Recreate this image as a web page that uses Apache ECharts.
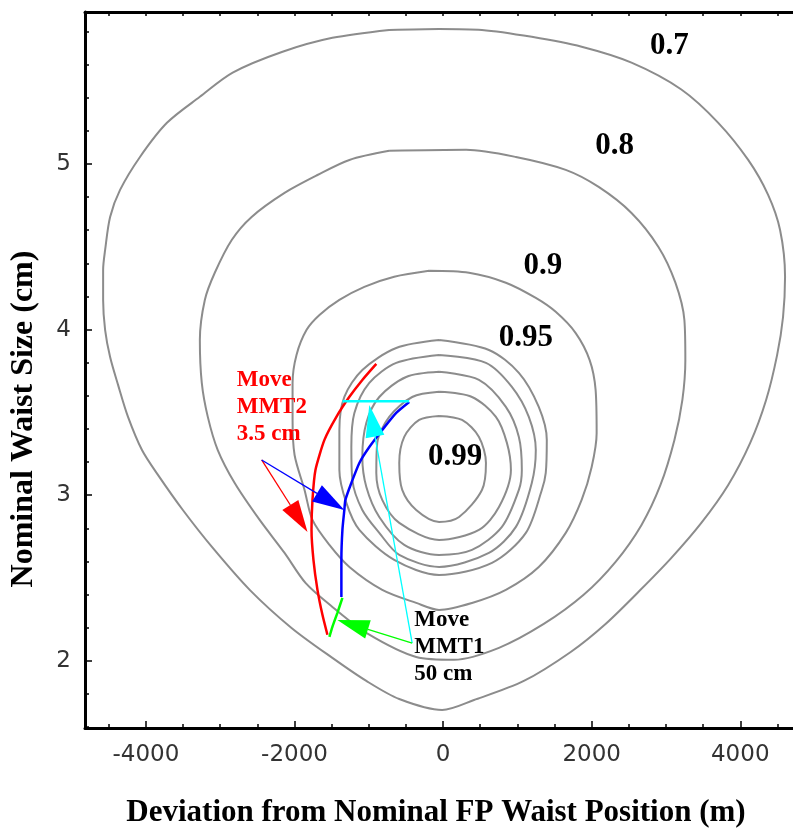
<!DOCTYPE html>
<html><head><meta charset="utf-8">
<script src="https://cdn.jsdelivr.net/npm/echarts@6/dist/echarts.min.js"></script>
<style>html,body{margin:0;padding:0;background:#fff}#c{width:793px;height:829px}</style>
</head><body><div id="c"></div>
<script>
// ---- axis ticks & labels ----
const xTickValues = [-4000, -2000, 0, 2000, 4000];
const xTickLabels = ['-4000', '-2000', '0', '2000', '4000'];
const xMinorTicks = [-4500, -4000, -3500, -3000, -2500, -2000, -1500, -1000, -500, 0, 500, 1000, 1500, 2000, 2500, 3000, 3500, 4000, 4500];
const yTickValues = [2, 3, 4, 5];
const yTickLabels = ['2', '3', '4', '5'];
const yMinorTicks = [1.6, 1.8, 2.0, 2.2, 2.4, 2.6, 2.8, 3.0, 3.2, 3.4, 3.6, 3.8, 4.0, 4.2, 4.4, 4.6, 4.8, 5.0, 5.2, 5.4, 5.6, 5.8];

// ---- contour levels (x = deviation m, y = waist size cm) ----
const contour070 = [[-725,5.809],[-54,5.815],[523,5.809],[1194,5.767],[1865,5.707],[2536,5.611],[3207,5.449],[3704,5.248],[4107,5.024],[4375,4.813],[4536,4.601],[4603,4.319],[4576,4.076],[4496,3.846],[4348,3.575],[4134,3.316],[3838,3.062],[3476,2.833],[3073,2.622],[2644,2.423],[2187,2.223],[1718,2.054],[1087,1.879],[416,1.764],[-13,1.704],[-590,1.770],[-1033,1.879],[-1490,2.018],[-2040,2.199],[-2603,2.429],[-3100,2.682],[-3503,2.911],[-3838,3.123],[-4053,3.273],[-4241,3.473],[-4375,3.666],[-4482,3.834],[-4549,3.997],[-4576,4.179],[-4576,4.360],[-4549,4.481],[-4482,4.680],[-4348,4.843],[-4080,5.042],[-3717,5.248],[-3274,5.405],[-2832,5.551],[-2161,5.677],[-1490,5.761],[-725,5.809]];
const contour080 = [[-725,5.079],[309,5.085],[980,5.042],[1651,4.964],[2094,4.861],[2536,4.704],[2899,4.499],[3127,4.283],[3248,4.058],[3261,3.816],[3221,3.575],[3114,3.334],[2926,3.062],[2671,2.821],[2322,2.598],[1892,2.399],[1355,2.223],[752,2.079],[148,2.007],[-362,2.024],[-1033,2.169],[-1490,2.326],[-1852,2.471],[-2134,2.652],[-2469,2.851],[-2805,3.074],[-3033,3.273],[-3167,3.473],[-3248,3.678],[-3274,3.937],[-3207,4.179],[-3073,4.343],[-2845,4.541],[-2577,4.680],[-2134,4.825],[-1691,4.933],[-1261,5.024],[-725,5.079]];
const contour090 = [[-188,4.355],[349,4.343],[845,4.283],[1248,4.191],[1516,4.107],[1785,3.979],[1973,3.816],[2053,3.636],[2067,3.376],[2000,3.171],[1865,2.972],[1651,2.773],[1288,2.567],[845,2.429],[389,2.350],[-54,2.308],[-362,2.350],[-819,2.429],[-1261,2.567],[-1530,2.700],[-1758,2.851],[-1865,3.032],[-1999,3.243],[-2026,3.455],[-2026,3.678],[-1973,3.847],[-1839,3.997],[-1664,4.088],[-1396,4.179],[-1060,4.258],[-658,4.319],[-188,4.355]];
const contour095 = [[-54,3.937],[617,3.877],[1020,3.739],[1288,3.533],[1396,3.334],[1382,3.135],[1329,3.032],[1114,2.773],[658,2.592],[-54,2.519],[-658,2.610],[-1127,2.791],[-1302,2.954],[-1396,3.153],[-1396,3.394],[-1329,3.594],[-1087,3.756],[-631,3.889],[-54,3.937]];
const contour096 = [[-54,3.847],[577,3.799],[926,3.654],[1154,3.473],[1248,3.273],[1194,3.074],[980,2.809],[617,2.652],[-54,2.567],[-590,2.640],[-859,2.773],[-1087,2.911],[-1221,3.092],[-1235,3.291],[-1194,3.497],[-993,3.678],[-631,3.799],[-54,3.847]];
const contour097 = [[-54,3.745],[483,3.696],[845,3.533],[1020,3.352],[1060,3.153],[1020,3.032],[792,2.809],[389,2.670],[-54,2.640],[-523,2.700],[-859,2.869],[-1033,3.050],[-1087,3.231],[-1033,3.437],[-859,3.593],[-497,3.714],[-54,3.745]];
const contour098 = [[-54,3.624],[389,3.593],[711,3.473],[859,3.316],[913,3.153],[752,2.929],[483,2.791],[-54,2.730],[-590,2.833],[-819,2.972],[-899,3.135],[-886,3.316],[-725,3.473],[-416,3.593],[-54,3.624]];
const contour099 = [[-54,3.479],[255,3.455],[483,3.352],[577,3.195],[523,3.032],[215,2.869],[-54,2.839],[-362,2.911],[-550,3.032],[-590,3.195],[-523,3.352],[-322,3.455],[-54,3.479]];

// ---- mirror moves ----
const pathMMT2 = [[-899,3.793],[-1087,3.696],[-1261,3.594],[-1436,3.473],[-1597,3.334],[-1718,3.153],[-1758,2.972],[-1771,2.791],[-1745,2.610],[-1691,2.429],[-1624,2.278],[-1557,2.158]];
const pathBlue = [[-456,3.563],[-631,3.497],[-819,3.394],[-993,3.291],[-1127,3.195],[-1235,3.074],[-1315,2.972],[-1329,2.911],[-1355,2.791],[-1369,2.610],[-1369,2.386]];
const pathGreen = [[-1355,2.380],[-1423,2.290],[-1490,2.205],[-1530,2.145]];
const pathCyan = [[-1355,3.568],[-456,3.568]];

// ---- annotation arrows: [fromX, fromY, toX, toY] ----
const arrowsData = [[-2442,3.213,-1825,2.778],[-2442,3.213,-1329,2.911],[-416,2.108,-993,3.545],[-416,2.108,-1423,2.247]];
const arrowColors = ['#ff0000','#0000ff','#00ffff','#00ff00'];

// ---- text labels ----
const contourLabelText = ['0.7','0.8','0.9','0.95','0.99'];
const contourLabelPos = [[3047,5.712],[2308,5.108],[1342,4.384],[1114,3.949],[161,3.231]];
const noteText = ['Move\nMMT2\n3.5 cm', 'Move\nMMT1\n50 cm'];
const notePos = [[-2778,3.774],[-389,2.326]];
const noteColors = ['#ff0000','#000000'];

const chart = echarts.init(document.getElementById('c'), null, {renderer:'canvas'});
const GRAY = '#8c8c8c';
function contourSeries(data){
  return {type:'line', data:data, symbol:'none', smooth:0.3, silent:true,
    lineStyle:{color:GRAY, width:2}, z:2, animation:false};
}
function pathSeries(data, color, w){
  return {type:'line', data:data, symbol:'none', smooth:0.2, silent:true,
    lineStyle:{color:color, width:w}, z:4, animation:false};
}
const serif = '"Liberation Serif","Times New Roman",serif';
const option = {
  animation:false,
  backgroundColor:'#fff',
  grid:{left:85, top:12, width:710, height:716, containLabel:false},
  xAxis:[
    {type:'value', min:-4820, max:4710, position:'bottom',
      axisLine:{show:true, onZero:false, lineStyle:{color:'#000', width:3}},
      axisTick:{show:true, inside:true, length:7, customValues:xTickValues, lineStyle:{color:'#000', width:1.5}},
      axisLabel:{show:true, customValues:xTickValues, margin:16,
        formatter:function(v){const i=xTickValues.indexOf(v); return i>=0?xTickLabels[i]:'';},
        fontFamily:'"DejaVu Sans",sans-serif', fontSize:23, color:'#333'},
      splitLine:{show:false}},
    {type:'value', min:-4820, max:4710, position:'bottom',
      axisLine:{show:false, onZero:false}, axisLabel:{show:false}, splitLine:{show:false},
      axisTick:{show:true, inside:true, length:4, customValues:xMinorTicks, lineStyle:{color:'#000', width:1.5}}},
    {type:'value', min:-4820, max:4710, position:'top',
      axisLine:{show:true, onZero:false, lineStyle:{color:'#000', width:3}}, axisLabel:{show:false}, splitLine:{show:false},
      axisTick:{show:true, inside:true, length:4, customValues:xMinorTicks, lineStyle:{color:'#000', width:1.5}}}
  ],
  yAxis:[
    {type:'value', min:1.595, max:5.917, position:'left',
      axisLine:{show:true, onZero:false, lineStyle:{color:'#000', width:3}},
      axisTick:{show:true, inside:true, length:7, customValues:yTickValues, lineStyle:{color:'#000', width:1.5}},
      axisLabel:{show:true, customValues:yTickValues, margin:14,
        formatter:function(v){const i=yTickValues.indexOf(v); return i>=0?yTickLabels[i]:'';},
        fontFamily:'"DejaVu Sans",sans-serif', fontSize:23, color:'#333'},
      splitLine:{show:false}},
    {type:'value', min:1.595, max:5.917, position:'left',
      axisLine:{show:false, onZero:false}, axisLabel:{show:false}, splitLine:{show:false},
      axisTick:{show:true, inside:true, length:4, customValues:yMinorTicks, lineStyle:{color:'#000', width:1.5}}}
  ],
  series:[
    contourSeries(contour070), contourSeries(contour080), contourSeries(contour090),
    contourSeries(contour095), contourSeries(contour096), contourSeries(contour097),
    contourSeries(contour098), contourSeries(contour099),
    pathSeries(pathMMT2,'#ff0000',2.5), pathSeries(pathBlue,'#0000ff',2.5),
    pathSeries(pathGreen,'#00ff00',2.5), pathSeries(pathCyan,'#00ffff',2.5),
    {type:'custom', silent:true, z:5, data:arrowsData, encode:{x:[0,2], y:[1,3]},
      renderItem:function(params, api){
        const p0 = api.coord([api.value(0), api.value(1)]);
        const p1 = api.coord([api.value(2), api.value(3)]);
        const color = arrowColors[params.dataIndex];
        const dx = p1[0]-p0[0], dy = p1[1]-p0[1];
        const L = Math.sqrt(dx*dx+dy*dy), ux = dx/L, uy = dy/L;
        const hl = 32, hw = 9.5;
        const bx = p1[0]-ux*hl, by = p1[1]-uy*hl;
        return {type:'group', children:[
          {type:'line', shape:{x1:p0[0], y1:p0[1], x2:bx, y2:by}, style:{stroke:color, lineWidth:1.3}},
          {type:'polygon', shape:{points:[[p1[0],p1[1]],[bx-uy*hw, by+ux*hw],[bx+uy*hw, by-ux*hw]]}, style:{fill:color}}
        ]};
      }},
    {type:'scatter', silent:true, z:6, symbolSize:0, itemStyle:{opacity:1},
      data:contourLabelPos.map(function(p,i){return {value:p, name:contourLabelText[i]};}),
      label:{show:true, position:'inside', formatter:'{b}', fontFamily:serif, fontWeight:'bold', fontSize:31, color:'#000', opacity:1}},
    {type:'scatter', silent:true, z:6, symbolSize:0, itemStyle:{opacity:1},
      data:notePos.map(function(p,i){return {value:p, name:noteText[i], label:{color:noteColors[i]}};}),
      label:{show:true, position:[0,0], align:'left', verticalAlign:'top', formatter:'{b}', fontFamily:serif, fontWeight:'bold', fontSize:23, lineHeight:27, opacity:1}}
  ],
  graphic:[
    {type:'text', x:436, y:813, style:{text:'Deviation from Nominal FP Waist Position (m)', font:'bold 31px "Liberation Serif", serif', fill:'#000', textAlign:'center', textVerticalAlign:'middle'}},
    {type:'text', x:24, y:419, rotation:Math.PI/2, style:{text:'Nominal Waist Size (cm)', font:'bold 32px "Liberation Serif", serif', fill:'#000', textAlign:'center', textVerticalAlign:'middle'}}
  ]
};
chart.setOption(option);
</script>
</body></html>
